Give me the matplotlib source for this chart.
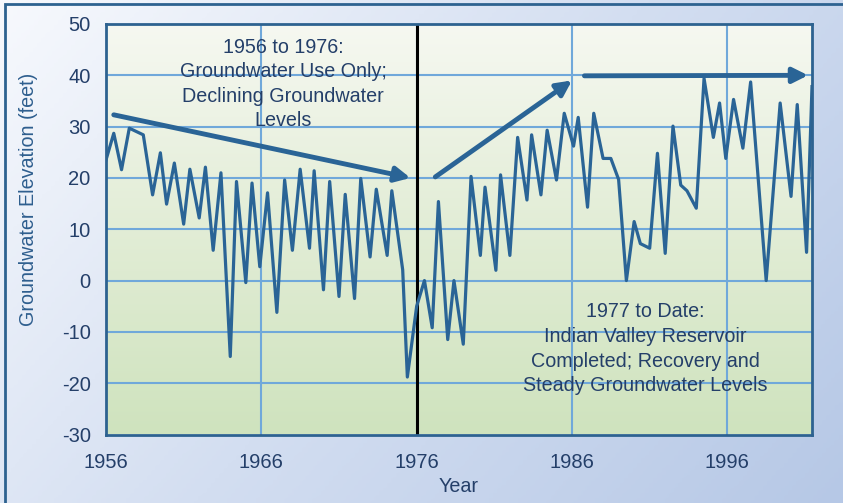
import numpy as np
import matplotlib.pyplot as plt
from matplotlib.colors import LinearSegmentedColormap
from matplotlib.patches import Rectangle

plt.rcParams["font.family"] = ["Liberation Sans", "DejaVu Sans"]
plt.rcParams["axes.unicode_minus"] = False

# Semi-annual groundwater elevation readings (decimal year, feet)
years = [
    1956.0, 1956.5, 1957.0, 1957.5, 1958.4, 1959.0, 1959.5, 1959.9, 1960.4, 1961.0,
    1961.4, 1962.0, 1962.4, 1962.9, 1963.4, 1964.0, 1964.4, 1965.0, 1965.4, 1965.9,
    1966.4, 1967.0, 1967.5, 1968.0, 1968.5, 1969.1, 1969.4, 1970.0, 1970.4, 1971.0,
    1971.4, 1972.0, 1972.4, 1973.0, 1973.4, 1974.1, 1974.4, 1975.1, 1975.4, 1976.0,
    1976.5, 1977.0, 1977.4, 1978.0, 1978.4, 1979.0, 1979.5, 1980.1, 1980.4, 1981.1,
    1981.4, 1982.0, 1982.5, 1983.1, 1983.4, 1984.0, 1984.4, 1985.0, 1985.5, 1986.1,
    1986.4, 1987.0, 1987.4, 1988.0, 1988.5, 1989.0, 1989.5, 1990.0, 1990.4, 1991.0,
    1991.5, 1992.0, 1992.5, 1993.0, 1993.4, 1994.0, 1994.5, 1995.1, 1995.5, 1995.9,
    1996.4, 1997.0, 1997.5, 1998.5, 1999.4, 2000.1, 2000.5, 2001.1, 2001.45,
]
elevation = [
    23.5, 28.7, 21.6, 29.7, 28.4, 16.7, 24.9, 14.9, 22.9, 11.0,
    21.7, 12.2, 22.1, 5.9, 21.0, -14.8, 19.3, -0.4, 19.0, 2.7,
    17.1, -6.2, 19.6, 5.9, 21.7, 6.3, 21.4, -1.8, 19.3, -3.1,
    16.8, -3.5, 19.9, 4.6, 17.8, 4.9, 17.5, 2.1, -18.8, -5.0,
    0.0, -9.2, 15.4, -11.5, 0.0, -12.4, 20.3, 4.9, 18.2, 2.0,
    20.6, 4.9, 27.9, 15.7, 28.4, 16.7, 29.3, 19.6, 32.6, 26.2,
    31.8, 14.3, 32.6, 23.8, 23.8, 19.7, 0.0, 11.5, 7.2, 6.3,
    24.8, 5.3, 30.1, 18.6, 17.5, 14.1, 39.4, 27.9, 34.6, 23.8,
    35.3, 25.8, 38.7, 0.0, 34.6, 16.4, 34.3, 5.5, 37.8,
]

xticks = [1956, 1966, 1976, 1986, 1996]
yticks = [-30, -20, -10, 0, 10, 20, 30, 40, 50]

text_early = "1956 to 1976:\nGroundwater Use Only;\nDeclining Groundwater\nLevels"
text_late = "1977 to Date:\nIndian Valley Reservoir\nCompleted; Recovery and\nSteady Groundwater Levels"

# trend arrows: (start, end) in data units
arrows = [
    ((1956.5, 32.3), (1975.6, 20.0)),
    ((1977.2, 20.2), (1986.0, 39.0)),
    ((1986.8, 39.9), (2001.2, 40.0)),
]

line_color = "#2A6496"
text_color = "#243F69"
grid_color = "#70A8DA"

fig = plt.figure(figsize=(8.43, 5.03), dpi=100)

# slide-style diagonal background
bg = fig.add_axes((0, 0, 1, 1), zorder=-2)
gx, gy = np.meshgrid(np.linspace(0, 1, 200), np.linspace(0, 1, 200))
bg_cmap = LinearSegmentedColormap.from_list("bg", ["#F7F9FD", "#D3DEF1", "#B6C8E6"])
bg.imshow(0.65 * gx + 0.35 * gy, cmap=bg_cmap, aspect="auto", extent=(0, 1, 0, 1), origin="upper")
bg.axis("off")
fig.patches.append(Rectangle((5 / 843, -0.05), 1.2, 1 - 4 / 503 + 0.05, transform=fig.transFigure,
                             fill=False, edgecolor="#2D6290", linewidth=2, clip_on=False))

ax = fig.add_axes((106 / 843, 1 - 434.5 / 503, 706 / 843, 410.5 / 503))
xmin, xmax = 1956, 2001.45
ymin, ymax = -30, 50

# plot area fades from near white to light green
area_cmap = LinearSegmentedColormap.from_list("area", ["#F6F8F1", "#E2EDD6", "#CFE3BE"])
ax.imshow(np.linspace(0, 1, 200).reshape(-1, 1), cmap=area_cmap, aspect="auto",
          extent=(xmin, xmax, ymin, ymax), origin="upper", zorder=0)

for y in yticks[1:-1]:
    ax.axhline(y, color=grid_color, linewidth=1.5, zorder=1)
for x in xticks[1:]:
    ax.axvline(x, color=grid_color, linewidth=1.5, zorder=1)
ax.axvline(1976, color="black", linewidth=2.2, zorder=2)

ax.plot(years, elevation, color=line_color, linewidth=2.3, zorder=3)

for start, end in arrows:
    ax.annotate("", xy=end, xytext=start, zorder=4,
                arrowprops=dict(arrowstyle="-|>,head_length=0.9,head_width=0.45",
                                color=line_color, linewidth=3.5, shrinkA=0, shrinkB=0))

ax.text(1967.4, 38.3, text_early, ha="center", va="center", fontsize=14.2,
        color=text_color, linespacing=1.37, zorder=5)
ax.text(1990.7, -13.3, text_late, ha="center", va="center", fontsize=14.2,
        color=text_color, linespacing=1.37, zorder=5)

ax.set_xlim(xmin, xmax)
ax.set_ylim(ymin, ymax)
ax.set_xticks(xticks)
ax.set_yticks(yticks)
ax.tick_params(length=0, labelsize=14.5, labelcolor=text_color)
ax.tick_params(axis="x", pad=13)
ax.tick_params(axis="y", pad=11)
for spine in ax.spines.values():
    spine.set_color("#2D6290")
    spine.set_linewidth(2)
    spine.set_zorder(6)

ax.set_xlabel("Year", fontsize=14.2, color=text_color, labelpad=4)
ax.set_ylabel("Groundwater Elevation (feet)", fontsize=14.2, color="#2E5E8E")
ax.yaxis.set_label_coords(38 / 843, 1 - 199 / 503, transform=fig.transFigure)

fig.savefig("out.png", dpi=100)
